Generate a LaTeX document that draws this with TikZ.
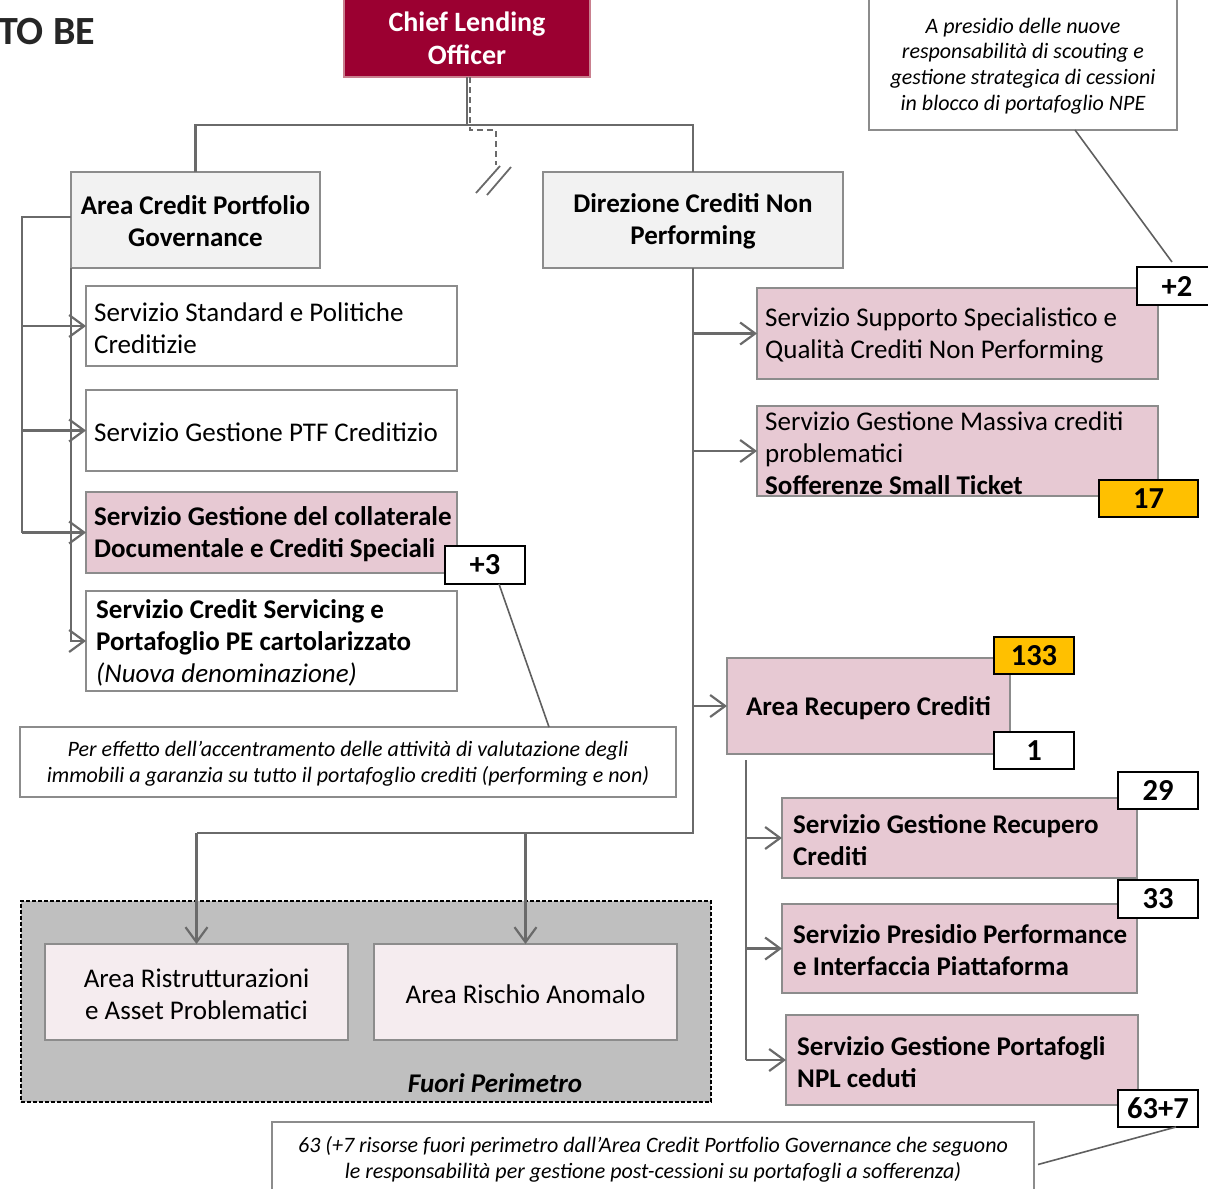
\documentclass[tikz,border=0pt]{standalone}
\usepackage{fontspec}
\setmainfont{Carlito}
\usetikzlibrary{arrows.meta}
\definecolor{crimson}{HTML}{9B0031}
\definecolor{crimsonb}{HTML}{C9808F}
\definecolor{pinkf}{HTML}{E7C9D3}
\definecolor{lpink}{HTML}{F5ECEF}
\definecolor{greyf}{HTML}{F2F2F2}
\definecolor{bord}{HTML}{8C8C8C}
\definecolor{lnc}{HTML}{6A6A6A}
\definecolor{goldf}{HTML}{FFC000}
\definecolor{outerf}{HTML}{BFBFBF}
\newcommand\fsn{\fontsize{27}{32}\selectfont}
\newcommand\fsb{\fontsize{27}{32}\selectfont\bfseries}
\newcommand\fsnote{\fontsize{22}{25.8}\selectfont\itshape}
\newcommand\fsnum{\fontsize{30.5}{32}\selectfont\bfseries}
\begin{document}
\begin{tikzpicture}[x=1pt,y=-1pt,
  box/.style={draw=bord, line width=2pt, inner sep=0pt, outer sep=0pt, anchor=north west},
  pbox/.style={box, fill=pinkf},
  wbox/.style={box, fill=white},
  gbox/.style={box, fill=greyf},
  numbox/.style={draw=black, line width=2pt, inner sep=0pt, outer sep=0pt, anchor=north west, font=\fsnum, fill=white},
  notebox/.style={box, fill=white},
  lt/.style={anchor=west, align=left, inner sep=0pt},
  ct/.style={anchor=center, align=center, inner sep=0pt},
  conn/.style={draw=lnc, line width=2.2pt},
  arr/.style={conn, -{Straight Barb[length=15pt,width=22pt]}},
  thinl/.style={draw=lnc!90!black, line width=1.6pt}
]
\useasboundingbox (0,0) rectangle (1208,1189);

% title
\node[anchor=west, inner sep=0pt, font=\fontsize{40}{44}\selectfont\bfseries, text=black!85] (tobe) at (-2,32) {TO BE};

% top
\node[box, draw=crimsonb, fill=crimson, minimum width=246, minimum height=82] (clo) at (344,-5) {};
\node[ct, text=white, font=\fontsize{28}{33}\selectfont\bfseries] (clot) at ([yshift=-2.5pt]clo.center) {Chief Lending\\Officer};

\node[gbox, minimum width=249, minimum height=96] (acpg) at (71,172) {};
\node[ct, font=\fsb] (acpgt) at ([yshift=-1.5pt]acpg.center) {Area Credit Portfolio\\Governance};
\node[gbox, minimum width=300, minimum height=96] (dcnp) at (543,172) {};
\node[ct, font=\fsb] (dcnpt) at ([yshift=-1.5pt]dcnp.center) {Direzione Crediti Non\\Performing};

\coordinate (j) at (467,125);
\coordinate (jl) at (195.5,125);
\coordinate (jr) at (693,125);
\draw[conn] (clo.south) -- (j);
\draw[conn] (acpg.north) -- (jl) -- (jr) -- (dcnp.north);
\draw[conn, line width=1.8pt, dash pattern=on 6pt off 4pt] ([xshift=3pt]clo.south) -- (470,130) -- (496,130) -- (496,165);
\coordinate (s1a) at (476,193); \coordinate (s1b) at (500,166);
\coordinate (s2a) at (487,195); \coordinate (s2b) at (511,167);
\draw[conn, line width=1.8pt] (s1a) -- (s1b);
\draw[conn, line width=1.8pt] (s2a) -- (s2b);

% left column
\node[wbox, minimum width=371, minimum height=80] (s1) at (86,286) {};
\node[lt, font=\fsn] (s1t) at ([xshift=8pt,yshift=-2pt]s1.west) {Servizio Standard e Politiche\\Creditizie};
\node[wbox, minimum width=371, minimum height=81] (s2) at (86,390) {};
\node[lt, font=\fsn] (s2t) at ([xshift=8pt,yshift=-2pt]s2.west) {Servizio Gestione PTF Creditizio};
\node[pbox, minimum width=371, minimum height=81] (s3) at (86,492) {};
\node[lt, font=\fsb] (s3t) at ([xshift=8pt,yshift=-2pt]s3.west) {Servizio Gestione del collaterale\\Documentale e Crediti Speciali};
\node[wbox, minimum width=371, minimum height=100] (s4) at (86,591) {};
\node[lt, font=\fsb] (s4t) at ([xshift=10pt,yshift=-2pt]s4.west) {Servizio Credit Servicing e\\Portafoglio PE cartolarizzato\\{\mdseries\itshape (Nuova denominazione)}};
\node[numbox, minimum width=80, minimum height=38] (p3) at (445,546) {+3};

\node[notebox, minimum width=656, minimum height=70] (notel) at (20,727) {};
\node[ct, font=\fsnote] (notelt) at ([yshift=-2pt]notel.center) {Per effetto dell’accentramento delle attività di valutazione degli\\immobili a garanzia su tutto il portafoglio crediti (performing e non)};
\draw[thinl] ([xshift=14pt]p3.south) -- ([xshift=201pt]notel.north);

\coordinate (lb) at (22,217);
\draw[conn] (acpg.west |- lb) -- (lb) -- (s3.west -| lb);
\draw[arr] (s1.west -| lb) -- (s1.west);
\draw[arr] (s2.west -| lb) -- (s2.west);
\draw[arr] (s3.west -| lb) -- (s3.west);
\draw[arr] (acpg.south west) |- (s4.west);

% right column
\node[pbox, minimum width=401, minimum height=91] (r1) at (757,288) {};
\node[lt, font=\fsn] (r1t) at ([xshift=8pt,yshift=-2pt]r1.west) {Servizio Supporto Specialistico e\\Qualità Crediti Non Performing};
\node[numbox, minimum width=80, minimum height=38] (p2) at (1137,267) {+2};
\node[notebox, minimum width=308, minimum height=135] (notetr) at (869,-5) {};
\node[ct, font=\fsnote] (notetrt) at ([yshift=-3.5pt]notetr.center) {A presidio delle nuove\\responsabilità di scouting e\\gestione strategica di cessioni\\in blocco di portafoglio NPE};
\draw[thinl] ([xshift=52pt]notetr.south) -- ([xshift=-5pt,yshift=5pt]p2.north);

\node[pbox, minimum width=401, minimum height=90] (r2) at (757,406) {};
\node[lt, font=\fsn] (r2t) at ([xshift=8pt,yshift=-2pt]r2.west) {Servizio Gestione Massiva crediti\\problematici\\\textbf{Sofferenze Small Ticket}};
\node[numbox, fill=goldf, minimum width=99, minimum height=37] (b17) at (1099,480) {17};

\node[pbox, minimum width=283, minimum height=96] (arc) at (727,658) {};
\node[ct, font=\fsb] (arct) at ([yshift=-2pt]arc.center) {Area Recupero Crediti};
\node[numbox, fill=goldf, minimum width=80, minimum height=37] (b133) at (994,637) {133};
\node[numbox, minimum width=80, minimum height=37] (b1) at (994,732) {1};

\coordinate (rv) at (693,833);
\draw[arr] (r1.west -| rv) -- (r1.west);
\draw[arr] (r2.west -| rv) -- (r2.west);
\draw[arr] (arc.west -| rv) -- (arc.west);

\node[pbox, minimum width=355, minimum height=80] (r3) at (782,798) {};
\node[lt, font=\fsb] (r3t) at ([xshift=11pt,yshift=-2pt]r3.west) {Servizio Gestione Recupero\\Crediti};
\node[numbox, minimum width=80, minimum height=37] (b29) at (1118,772) {29};
\node[pbox, minimum width=355, minimum height=89] (r4) at (782,904) {};
\node[lt, font=\fsb] (r4t) at ([xshift=11pt,yshift=-2pt]r4.west) {Servizio Presidio Performance\\e Interfaccia Piattaforma};
\node[numbox, minimum width=80, minimum height=38] (b33) at (1118,880) {33};
\node[pbox, minimum width=352, minimum height=90] (r5) at (786,1015) {};
\node[lt, font=\fsb] (r5t) at ([xshift=11pt,yshift=-2pt]r5.west) {Servizio Gestione Portafogli\\NPL ceduti};

\coordinate (av) at (746,760);
\draw[conn] (av) -- (r5.west -| av);
\draw[arr] (r3.west -| av) -- (r3.west);
\draw[arr] (r4.west -| av) -- (r4.west);
\draw[arr] (r5.west -| av) -- (r5.west);

\node[notebox, minimum width=762, minimum height=75] (noteb) at (272,1122) {};
\node[ct, font=\fsnote] (notebt) at ([yshift=0pt]noteb.center) {63 (+7 risorse fuori perimetro dall’Area Credit Portfolio Governance che seguono\\le responsabilità per gestione post-cessioni su portafogli a sofferenza)};
\node[numbox, minimum width=80, minimum height=37] (b63) at (1118,1090) {63+7};
\draw[thinl] ([xshift=18pt]b63.south) -- ([xshift=4pt,yshift=-5pt]noteb.east);

% fuori perimetro
\node[draw=black, line width=1.6pt, dash pattern=on 4pt off 2pt, fill=outerf, inner sep=0pt, anchor=north west, minimum width=690, minimum height=201] (fp) at (20,900) {};
\node[anchor=center, inner sep=0pt, font=\fontsize{27}{30}\selectfont\bfseries\itshape] (fpt) at (495,1083) {Fuori Perimetro};
\node[box, fill=lpink, minimum width=303, minimum height=96] (ar1) at (45,944) {};
\node[ct, font=\fsn] (ar1t) at ([yshift=-2pt]ar1.center) {Area Ristrutturazioni\\e Asset Problematici};
\node[box, fill=lpink, minimum width=303, minimum height=96] (ar2) at (374,944) {};
\node[ct, font=\fsn] (ar2t) at ([yshift=-2pt]ar2.center) {Area Rischio Anomalo};

\coordinate (hb) at (0,833);
\draw[conn] (dcnp.south) |- (ar1.north |- hb);
\draw[arr] (ar1.north |- hb) -- (ar1.north);
\draw[arr] (ar2.north |- hb) -- (ar2.north);
\end{tikzpicture}
\end{document}
